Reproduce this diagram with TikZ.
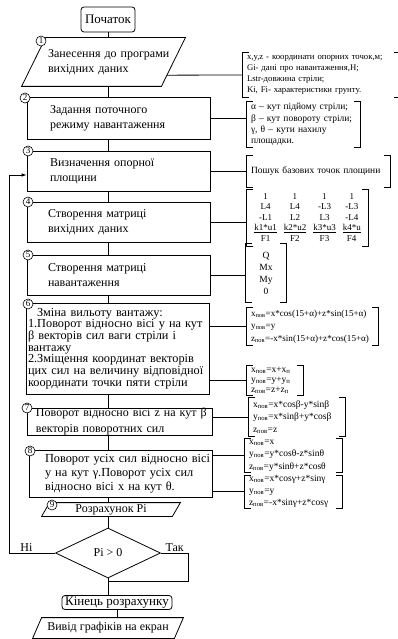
\documentclass[tikz,border=0pt]{standalone}
\usepackage{fontspec}
\setmainfont{Liberation Serif}
\usetikzlibrary{arrows.meta,shapes.geometric,calc}

% square brackets round a note node
\newcommand{\sqbr}[1]{%
  \draw ([xshift=6pt]#1.north west) -- (#1.north west) -- (#1.south west) -- ([xshift=6pt]#1.south west);
  \draw ([xshift=-6pt]#1.north east) -- (#1.north east) -- (#1.south east) -- ([xshift=-6pt]#1.south east);}
% slanted box (input/output) round a node
\newcommand{\slantbox}[2]{%
  \coordinate (#1-tl) at ([xshift=#2]#1.north west);
  \coordinate (#1-tr) at (#1.north east);
  \coordinate (#1-br) at ([xshift=-#2]#1.south east);
  \coordinate (#1-bl) at (#1.south west);
  \draw (#1-tl) -- (#1-tr) -- (#1-br) -- (#1-bl) -- cycle;}

\begin{document}
\begin{tikzpicture}[x=1pt, y=-1pt, line width=0.8pt, >={Latex[length=5pt,width=3.5pt]},
  blk/.style={draw, inner sep=0pt, align=left, font=\fontsize{12}{15}\selectfont,
    execute at begin node={\leftskip=#1\relax\rightskip=-60pt plus 1fil\relax}},
  term/.style={draw, rounded corners=3pt, inner sep=1pt, font=\fontsize{13}{15}\selectfont},
  para/.style={inner sep=0pt, font=\fontsize{12}{14}\selectfont},
  dia/.style={draw, diamond, inner sep=0pt, minimum width=105pt, minimum height=50pt, font=\fontsize{12}{14}\selectfont},
  num/.style={draw, circle, fill=white, inner sep=0pt, minimum size=10pt, line width=0.6pt, font=\fontsize{9}{9}\selectfont},
  brk/.style={inner sep=0pt, align=left, font=\fontsize{9.5}{12.5}\selectfont,
    execute at begin node={\leftskip=4pt\relax\rightskip=-60pt plus 1fil\relax}},
  brkc/.style={inner sep=0pt, align=center, font=\fontsize{9}{10.5}\selectfont},
  lbl/.style={inner sep=1pt, font=\fontsize{12}{14}\selectfont}]
\useasboundingbox[fill=white] (0,0) rectangle (398,639);

% main column
\node[term, minimum width=54pt, minimum height=25pt] (st) at (108,19.5) {Початок};
\node[blk=26pt, draw=none, text width=163pt, minimum height=48pt] (b1) at (103.5,62) {Занесення до програми\\вихідних даних};
\slantbox{b1}{24pt}
\node[blk=23pt, text width=183pt, minimum height=42pt] (b2) at (118.5,118) {Задання поточного\\режиму навантаження};
\node[blk=23pt, text width=183pt, minimum height=40pt] (b3) at (118.5,171) {Визначення опорної\\площини};
\node[blk=21pt, text width=183pt, minimum height=40pt] (b4) at (118.5,222) {Створення матриці\\вихідних даних};
\node[blk=21pt, text width=183pt, minimum height=40pt] (b5) at (118.5,275) {Створення матриці\\навантаження};
\node[blk=2pt, text width=183pt, minimum height=91pt, font=\fontsize{12.3}{11.7}\selectfont] (b6) at (117.5,348.5)
  {\hspace*{9pt}Зміна вильоту вантажу:\\1.Поворот відносно вісі у на кут\\β векторів сил ваги стріли і\\вантажу\\2.Зміщення координат векторів\\цих сил на величину відповідної\\координати точки пяти стріли};
\node[blk=9pt, text width=185pt, minimum height=27pt, font=\fontsize{12}{16}\selectfont] (b7) at (119.5,421.5) {Поворот відносно вісі z на кут β\\векторів поворотних сил};
\node[blk=16pt, text width=183pt, minimum height=47pt, font=\fontsize{12.3}{14}\selectfont] (b8) at (120.5,473.5) {Поворот усіх сил відносно вісі\\у на кут γ.Поворот усіх сил\\відносно вісі х на кут θ.};
\node[para, minimum width=138pt, minimum height=13pt] (b9) at (111,509.5) {Розрахунок Pi};
\slantbox{b9}{8pt}
\node[dia] (dec) at (108,553) {Pi > 0};
\node[term, minimum width=110pt, minimum height=14pt] (fin) at (117,602.5) {Кінець розрахунку};
\node[para, minimum width=150pt, minimum height=20pt] (out) at (108,628) {Вивід графіків на екран};
\slantbox{out}{9pt}
\coordinate (j) at (108,581);

\draw (st.south) -- (st.south |- b1.north);
\draw (st.south |- b1.south) -- (st.south |- b2.north);
\draw (st.south |- b2.south) -- (st.south |- b3.north);
\draw (st.south |- b3.south) -- (st.south |- b4.north);
\draw (st.south |- b4.south) -- (st.south |- b5.north);
\draw (st.south |- b5.south) -- (st.south |- b6.north);
\draw (st.south |- b6.south) -- (st.south |- b7.north);
\draw (st.south |- b7.south) -- (st.south |- b8.north);
\draw (st.south |- b8.south) -- (st.south |- b9.north);
\draw (st.south |- b9.south) -- (dec.north);
\draw (dec.south) -- (dec.south |- fin.north);
\draw (fin.south) -- (fin.south |- out.north);
\draw (dec.east) -- node[lbl, above] {Так} ++(27.5,0) |- (j);
\draw[->] (dec.west) -- node[lbl, above, pos=0.63] {Ні} ++(-45.5,0) |- ([yshift=-4pt]b3.west);

% step numbers
\node[num] (n1) at (41,41) {1};
\node[num] (n2) at (25,98) {2};
\node[num] (n3) at (28,151) {3};
\node[num] (n4) at (28,202) {4};
\node[num] (n5) at (28,255) {5};
\node[num] (n6) at (28,304) {6};
\node[num] (n7) at (27,408) {7};
\node[num] (n8) at (30,451) {8};
\node[num] (n9) at (52,505) {9};

% notes
\node[brk, text width=157pt, minimum height=44pt, font=\fontsize{8.7}{11}\selectfont] (r1) at (321.5,75)
  {x,y,z - координати опорних точок,м;\\Gi- дані про навантаження,H;\\Lstr-довжина стріли;\\Ki, Fi- характеристики грунту.};
\sqbr{r1}
\node[brk, text width=113pt, minimum height=45pt, font=\fontsize{9.5}{11.3}\selectfont] (r2) at (303.5,124.5)
  {α – кут підйому стріли;\\β – кут повороту стріли;\\γ, θ – кути нахилу\\площадки.};
\sqbr{r2}
\node[brk, text width=143pt, minimum height=31pt, font=\fontsize{9.5}{12}\selectfont] (r3) at (318.5,171.5) {Пошук базових точок площини};
\sqbr{r3}
\node[brkc, minimum width=121pt, minimum height=56pt] (r4) at (307.5,218) {%
  \begin{tabular}{@{}c@{\hspace{7pt}}c@{\hspace{7pt}}c@{\hspace{7pt}}c@{}}
  1 & 1 & 1 & 1\\
  L4 & L4 & -L3 & -L3\\
  -L1 & L2 & L3 & -L4\\
  \underline{k1*u1} & \underline{k2*u2} & \underline{k3*u3} & \underline{k4*u}\\
  F1 & F2 & F3 & F4
  \end{tabular}};
\sqbr{r4}
\node[brkc, minimum width=40pt, minimum height=58pt, font=\fontsize{9.5}{12}\selectfont] (r5) at (266,273) {Q\\Mx\\My\\0};
\sqbr{r5}
\node[brk, text width=131pt, minimum height=37pt, font=\fontsize{9.1}{12.5}\selectfont] (r6) at (312.5,326.5)
  {x\textsubscript{пов}=x*cos(15+α)+z*sin(15+α)\\y\textsubscript{пов}=y\\z\textsubscript{пов}=-x*sin(15+α)+z*cos(15+α)};
\sqbr{r6}
\node[brk, text width=56pt, minimum height=29pt, font=\fontsize{9.5}{10}\selectfont] (r6b) at (275,380.5)
  {x\textsubscript{пов}=x+x\textsubscript{п}\\y\textsubscript{пов}=y+y\textsubscript{п}\\z\textsubscript{пов}=z+z\textsubscript{п}};
\sqbr{r6b}
\node[brk, text width=96pt, minimum height=38pt] (r7) at (297,417)
  {x\textsubscript{пов}=x*cosβ-y*sinβ\\y\textsubscript{пов}=x*sinβ+y*cosβ\\z\textsubscript{пов}=z};
\sqbr{r7}
\node[brk, text width=97pt, minimum height=33pt, font=\fontsize{9.5}{12.5}\selectfont] (r8) at (293.5,455.5)
  {x\textsubscript{пов}=x\\y\textsubscript{пов}=y*cosθ-z*sinθ\\z\textsubscript{пов}=y*sinθ+z*cosθ};
\sqbr{r8}
\node[brk, text width=97pt, minimum height=31pt, font=\fontsize{9.5}{12}\selectfont] (r8b) at (293.5,491.5)
  {x\textsubscript{пов}=x*cosγ+z*sinγ\\y\textsubscript{пов}=y\\z\textsubscript{пов}=-x*sinγ+z*cosγ};
\sqbr{r8b}

\draw ($(b1-tr)!0.77!(b1-br)$) -- (r1.west);
\draw (b2.east) -- (b2.east -| r2.west);
\draw (b3.east) -- (b3.east -| r3.west);
\draw (b4.east) -- (b4.east -| r4.west);
\draw (b5.east) -- (b5.east -| r5.west);
\draw (b6.east |- r6.west) -- (r6.west);
\draw (b6.east |- r6b.west) -- (r6b.west);
\draw (b7.east |- r7.west) -- (r7.west);
\draw (b8.east |- r8.west) -- (r8.west);
\draw (b8.east |- r8b.west) -- (r8b.west);
\end{tikzpicture}
\end{document}
